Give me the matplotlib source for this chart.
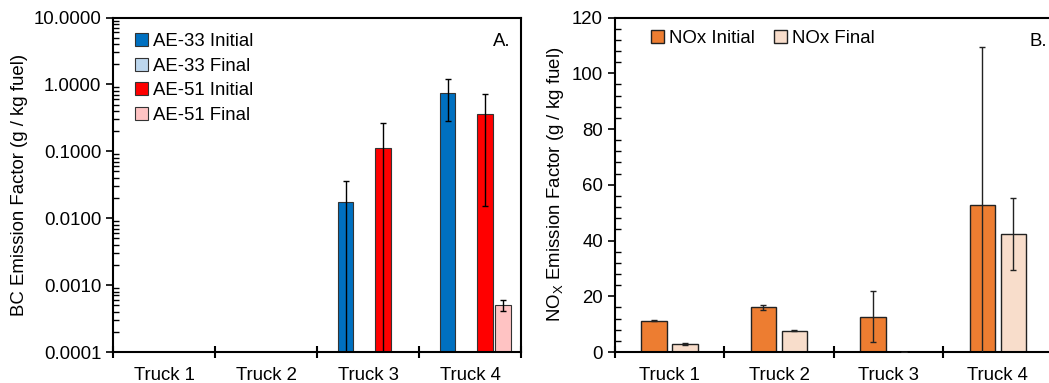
import numpy as np
import matplotlib.pyplot as plt
from matplotlib.ticker import FixedLocator, LogLocator, MultipleLocator, NullFormatter, FuncFormatter

plt.rcParams['font.family'] = ['Liberation Sans', 'DejaVu Sans']
plt.rcParams['font.size'] = 13.4

# ---- data ----
trucks = ['Truck 1', 'Truck 2', 'Truck 3', 'Truck 4']

bc_labels = ['AE-33 Initial', 'AE-33 Final', 'AE-51 Initial', 'AE-51 Final']
bc_colors = ['#0070C0', '#BDD7EE', '#FF0000', '#FFC3C3']
bc_vals = [
    [np.nan, np.nan, 0.0177, 0.736],      # AE-33 Initial
    [np.nan, np.nan, np.nan, np.nan],     # AE-33 Final
    [np.nan, np.nan, 0.111, 0.365],       # AE-51 Initial
    [np.nan, np.nan, np.nan, 0.000505],   # AE-51 Final
]
bc_errs = [
    [np.nan, np.nan, 0.0186, 0.45],
    [np.nan, np.nan, np.nan, np.nan],
    [np.nan, np.nan, 0.151, 0.35],
    [np.nan, np.nan, np.nan, 0.00009],
]

nox_labels = ['NOx Initial', 'NOx Final']
nox_colors = ['#ED7D31', '#F8DDCB']
nox_vals = [
    [11.2, 16.0, 12.7, 52.6],
    [2.9, 7.7, 0.0, 42.3],
]
nox_errs = [
    [0.2, 1.0, 9.1, 56.8],
    [0.3, 0.2, 0.0, 12.8],
]

fig = plt.figure(figsize=(10.49, 3.83), dpi=100)
axA = fig.add_axes([0.1077, 0.0809, 0.3890, 0.8734])
axB = fig.add_axes([0.5860, 0.0809, 0.4175, 0.8734])

x = np.arange(len(trucks))


def style_x(ax):
    ax.set_xlim(-0.5, len(trucks) - 0.5)
    ax.xaxis.set_major_locator(FixedLocator(np.arange(len(trucks) + 1) - 0.5))
    ax.xaxis.set_major_formatter(NullFormatter())
    ax.xaxis.set_minor_locator(FixedLocator(x))
    ax.set_xticklabels(trucks, minor=True)
    ax.tick_params(axis='x', which='major', direction='inout', length=9, width=1.5)
    ax.tick_params(axis='x', which='minor', length=0, pad=11)
    for s in ax.spines.values():
        s.set_linewidth(1.5)


# ---- panel A (BC, log) ----
offsA = [-0.22, -0.04, 0.145, 0.325]
wA = 0.152
for i in range(4):
    axA.bar(x + offsA[i], bc_vals[i], wA, color=bc_colors[i], edgecolor='#333333',
            linewidth=0.8, label=bc_labels[i], zorder=2)
    axA.errorbar(x + offsA[i], bc_vals[i], yerr=bc_errs[i], fmt='none', ecolor='black',
                 elinewidth=1, capsize=2.5, capthick=1, zorder=3)
axA.set_yscale('log')
axA.set_ylim(0.0001, 10)
axA.yaxis.set_major_locator(LogLocator(base=10, numticks=10))
axA.yaxis.set_major_formatter(FuncFormatter(lambda v, p: f'{v:.4f}'))
axA.yaxis.set_minor_locator(LogLocator(base=10, subs=np.arange(2, 10), numticks=20))
axA.yaxis.set_minor_formatter(NullFormatter())
axA.tick_params(axis='y', which='major', direction='out', length=5, width=1.2)
axA.tick_params(axis='y', which='minor', direction='in', length=4, width=1)
axA.set_ylabel('BC Emission Factor (g / kg fuel)')
style_x(axA)
axA.legend(loc='upper left', frameon=False, handlelength=0.7, handleheight=0.7,
           handletextpad=0.3, labelspacing=0.4, borderaxespad=0.0,
           bbox_to_anchor=(0.035, 0.975))
axA.text(0.975, 0.955, 'A.', transform=axA.transAxes, ha='right', va='top')

# ---- panel B (NOx) ----
offsB = [-0.1415, 0.1415]
wB = 0.231
for i in range(2):
    axB.bar(x + offsB[i], nox_vals[i], wB, color=nox_colors[i], edgecolor='#222222',
            linewidth=1, label=nox_labels[i], zorder=2)
    axB.errorbar(x + offsB[i], nox_vals[i], yerr=nox_errs[i], fmt='none', ecolor='#222222',
                 elinewidth=1, capsize=2.5, capthick=1, zorder=3)
axB.set_ylim(0, 120)
axB.yaxis.set_major_locator(MultipleLocator(20))
axB.yaxis.set_minor_locator(MultipleLocator(4))
axB.tick_params(axis='y', which='major', direction='out', length=5, width=1.2)
axB.tick_params(axis='y', which='minor', direction='in', length=4, width=1)
axB.set_ylabel('NO$_\\mathregular{X}$ Emission Factor (g / kg fuel)')
style_x(axB)
axB.legend(loc='upper left', frameon=False, ncol=2, handlelength=0.7, handleheight=0.7,
           handletextpad=0.3, columnspacing=1.0, borderaxespad=0.0,
           bbox_to_anchor=(0.065, 0.985))
axB.text(0.988, 0.955, 'B.', transform=axB.transAxes, ha='right', va='top')

fig.savefig('out.png', dpi=100)
